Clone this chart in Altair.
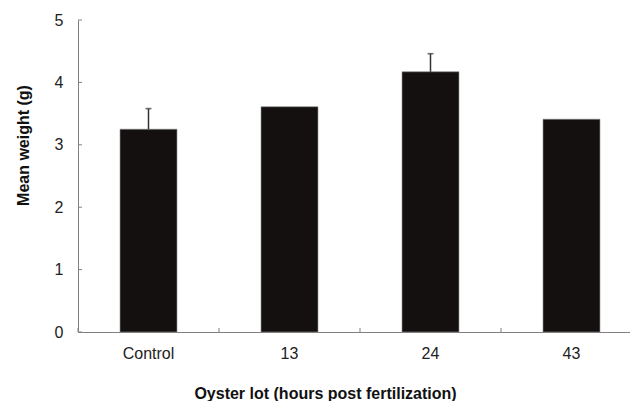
import altair as alt
import pandas as pd

categories = ["Control", "13", "24", "43"]
means = [3.25, 3.61, 4.17, 3.41]
upper = [3.58, None, 4.46, None]
y_ticks = [0, 1, 2, 3, 4, 5]

df = pd.DataFrame({"lot": categories, "mean": means, "upper": upper})
err = df.dropna(subset=["upper"])
ticks_df = pd.DataFrame({"v": y_ticks})

FONT = "Liberation Sans"
AXIS_COL = "#808080"
W, H = 552, 312

xscale = alt.Scale(domain=categories, range=[0, 564], paddingInner=0, paddingOuter=0)
yscale = alt.Scale(domain=[0, 5], nice=False)

xaxis = alt.Axis(
    title="Oyster lot (hours post fertilization)",
    labelAngle=0, ticks=False, tickSize=0, labelPadding=13,
    labelFont=FONT, labelFontSize=16, labelColor="#222222",
    titleFont=FONT, titleFontSize=16, titleFontWeight="bold", titleColor="#111111",
    titleX=247, titleY=66, titleBaseline="alphabetic", titleAnchor="start",
    titleAlign="center",
    domainColor=AXIS_COL, domainWidth=1, grid=False,
)
yaxis = alt.Axis(
    title="Mean weight (g)", values=y_ticks, format="d",
    ticks=False, tickSize=0, labelPadding=15,
    labelFont=FONT, labelFontSize=16, labelColor="#222222",
    titleFont=FONT, titleFontSize=16, titleFontWeight="bold", titleColor="#111111",
    titleAngle=-90, titleX=-50, titleY=125, titleAlign="center",
    titleBaseline="alphabetic",
    domainColor=AXIS_COL, domainWidth=1, grid=False,
)

bars = alt.Chart(df).mark_bar(
    width=alt.RelativeBandSize(0.404), color="#141010",
    stroke="#8a8a8a", strokeWidth=0.6,
).encode(
    x=alt.X("lot:N", sort=categories, scale=xscale, axis=xaxis),
    y=alt.Y("mean:Q", scale=yscale, axis=yaxis),
)

err_line = alt.Chart(err).mark_rule(color="#333333", strokeWidth=1.5).encode(
    x=alt.X("lot:N", sort=categories, scale=xscale),
    y=alt.Y("mean:Q", scale=yscale),
    y2="upper:Q",
)
err_cap = alt.Chart(err).mark_tick(color="#333333", thickness=1.6, size=6, orient="horizontal").encode(
    x=alt.X("lot:N", sort=categories, scale=xscale),
    y=alt.Y("upper:Q", scale=yscale),
)

xticks = alt.Chart(df).mark_rule(color=AXIS_COL, strokeWidth=1).encode(
    x=alt.X("lot:N", sort=categories, scale=xscale, bandPosition=0),
    y=alt.value(H), y2=alt.value(H - 4),
)
yticks = alt.Chart(ticks_df).mark_rule(color=AXIS_COL, strokeWidth=1).encode(
    y=alt.Y("v:Q", scale=yscale),
    x=alt.value(0), x2=alt.value(4),
)

chart = alt.layer(bars, err_line, err_cap, xticks, yticks).properties(
    width=W, height=H,
    autosize=alt.AutoSizeParams(type="none"),
    padding={"left": 70, "top": 12, "right": 0, "bottom": 69},
    background="white",
).configure_view(stroke=None)

chart.save("out.html", embed_options={"renderer": "svg", "actions": False})
